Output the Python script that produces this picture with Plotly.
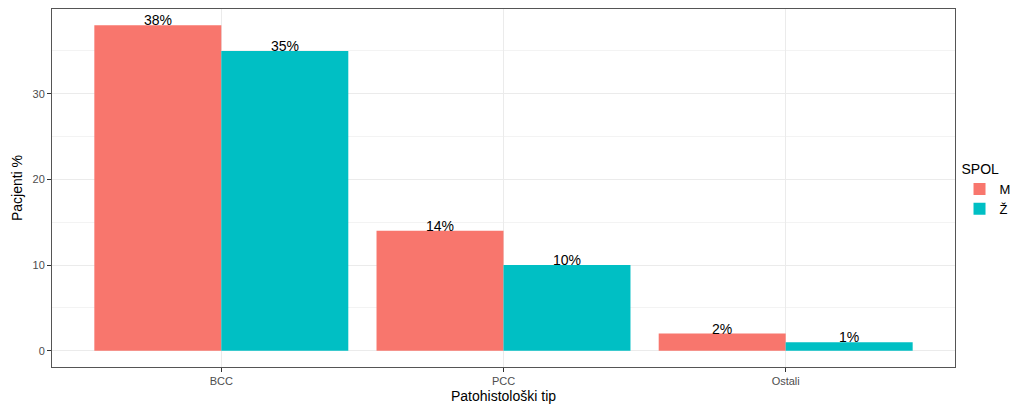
import plotly.graph_objects as go

categories = ["BCC", "PCC", "Ostali"]
values_m = [38, 14, 2]
values_z = [35, 10, 1]
series_names = ["M", "Ž"]
colors = ["#F8766D", "#00BFC4"]

fig = go.Figure()
bar_w = 0.45
for k, (name, vals, col) in enumerate(zip(series_names, [values_m, values_z], colors)):
    fig.add_trace(go.Bar(
        x=categories, y=vals, name=name, marker=dict(color=col, line=dict(width=0)),
        hoverinfo="skip",
    ))
    off = (k - 0.5) * bar_w
    for i, v in enumerate(vals):
        fig.add_annotation(
            x=i + off, y=v, text=f"{v}%", showarrow=False,
            xanchor="center", yanchor="bottom", yshift=-5,
            font=dict(size=14, color="#000000", family="Liberation Sans"),
        )

# page body has an 8px margin, so the figure is sized to fit the window
fig.update_layout(
    width=1013, height=397,
    margin=dict(l=44, r=66, t=1, b=38, autoexpand=False),
    barmode="group", bargap=0.1, bargroupgap=0,
    plot_bgcolor="white", paper_bgcolor="white",
    font=dict(family="Liberation Sans", size=11, color="#4d4d4d"),
    legend=dict(
        title=dict(text="SPOL", font=dict(size=14, color="#000000")),
        x=1.005, y=0.59, xanchor="left", yanchor="top",
        font=dict(size=13, color="#000000"),
        tracegroupgap=0,
    ),
    showlegend=True,
)
fig.update_xaxes(
    type="category", range=[-0.6, 2.6], automargin=False,
    showgrid=True, gridcolor="#ebebeb", gridwidth=1,
    ticks="outside", ticklen=4, tickcolor="#333333",
    tickfont=dict(size=11, color="#4d4d4d"),
    showline=True, linecolor="#555555", mirror=True, linewidth=1,
    title=dict(text="Patohistološki tip", font=dict(size=14, color="#000000"), standoff=4),
    zeroline=False,
)
fig.update_yaxes(
    range=[-1.9, 39.9], tickvals=[0, 10, 20, 30], automargin=False,
    showgrid=True, gridcolor="#ebebeb", gridwidth=1,
    minor=dict(tickvals=[5, 15, 25, 35], showgrid=True, gridcolor="#f3f3f3", ticklen=0),
    ticks="outside", ticklen=4, tickcolor="#333333",
    tickfont=dict(size=11, color="#4d4d4d"),
    showline=True, linecolor="#555555", mirror=True, linewidth=1,
    title=dict(text="Pacjenti %", font=dict(size=14, color="#000000"), standoff=6),
    zeroline=False,
)
fig.write_html("out.html")
